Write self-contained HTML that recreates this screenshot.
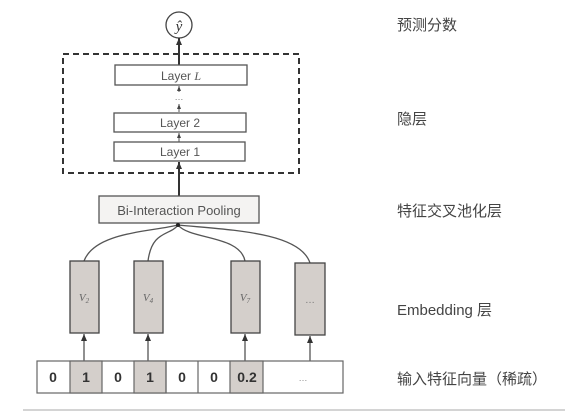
<!DOCTYPE html>
<html><head><meta charset="utf-8"><style>
html,body{margin:0;padding:0;background:#fff;width:579px;height:418px;overflow:hidden}
.cn{font-family:"Liberation Sans","Noto Sans CJK SC",sans-serif;font-size:15px;fill:#444}
</style></head><body>
<svg width="579" height="418" viewBox="0 0 579 418" xmlns="http://www.w3.org/2000/svg">
<defs>
<marker id="a" markerWidth="7" markerHeight="6" refX="7" refY="3" orient="auto" markerUnits="userSpaceOnUse">
<path d="M0,0 L7,3 L0,6 Z" fill="#333"/></marker>
<marker id="b" markerWidth="5" markerHeight="4" refX="5" refY="2" orient="auto" markerUnits="userSpaceOnUse">
<path d="M0,0 L5,2 L0,4 Z" fill="#444"/></marker>
</defs>
<!-- output circle -->
<circle cx="179" cy="25" r="13" fill="#fff" stroke="#444" stroke-width="1.3"/>
<text x="179" y="31" text-anchor="middle" font-family="Liberation Serif,serif" font-style="italic" font-size="15" fill="#333">ŷ</text>
<!-- dashed box -->
<rect x="63" y="54" width="236" height="119" fill="none" stroke="#333" stroke-width="2" stroke-dasharray="6,4"/>
<line x1="179" y1="65" x2="179" y2="38" stroke="#333" stroke-width="2" marker-end="url(#a)"/>
<rect x="115" y="65" width="132" height="20" fill="#fff" stroke="#555" stroke-width="1.3"/>
<text x="181" y="80" text-anchor="middle" font-family="Liberation Sans,sans-serif" font-size="12" fill="#555">Layer <tspan font-style="italic" font-family="Liberation Serif,serif">L</tspan></text>
<line x1="179" y1="92" x2="179" y2="86" stroke="#555" stroke-width="1" marker-end="url(#b)"/>
<text x="179" y="100" text-anchor="middle" font-family="Liberation Sans,sans-serif" font-size="9" fill="#777">…</text>
<line x1="179" y1="112" x2="179" y2="104" stroke="#555" stroke-width="1" marker-end="url(#b)"/>
<rect x="114" y="113" width="132" height="19" fill="#fff" stroke="#555" stroke-width="1.3"/>
<text x="180" y="127" text-anchor="middle" font-family="Liberation Sans,sans-serif" font-size="12" fill="#555">Layer 2</text>
<line x1="179" y1="142" x2="179" y2="133" stroke="#555" stroke-width="1" marker-end="url(#b)"/>
<rect x="114" y="142" width="131" height="19" fill="#fff" stroke="#555" stroke-width="1.3"/>
<text x="180" y="156" text-anchor="middle" font-family="Liberation Sans,sans-serif" font-size="12" fill="#555">Layer 1</text>
<line x1="179" y1="196" x2="179" y2="162" stroke="#333" stroke-width="2" marker-end="url(#a)"/>
<!-- Bi-interaction -->
<rect x="99" y="196" width="160" height="27" fill="#f4f3f2" stroke="#555" stroke-width="1.3"/>
<text x="179" y="215" text-anchor="middle" font-family="Liberation Sans,sans-serif" font-size="13" fill="#555">Bi-Interaction Pooling</text>
<!-- curves -->
<g fill="none" stroke="#555" stroke-width="1.3">
<path d="M178,225 C150,232 95,232 84,261"/>
<path d="M178,225 C170,236 152,230 148,261"/>
<path d="M178,225 C190,240 240,235 245,261"/>
<path d="M178,225 C230,230 300,232 310,263"/>
</g>
<circle cx="178" cy="225" r="2" fill="#222"/>
<!-- embedding -->
<g fill="#d4cfcb" stroke="#444" stroke-width="1.3">
<rect x="70" y="261" width="29" height="72"/>
<rect x="134" y="261" width="29" height="72"/>
<rect x="231" y="261" width="29" height="72"/>
<rect x="295" y="263" width="30" height="72"/>
</g>
<g font-family="Liberation Serif,serif" font-style="italic" font-size="11" fill="#666" text-anchor="middle">
<text x="84" y="301">V<tspan font-size="7" dy="2">2</tspan></text>
<text x="148" y="301">V<tspan font-size="7" dy="2">4</tspan></text>
<text x="245" y="301">V<tspan font-size="7" dy="2">7</tspan></text>
</g>
<text x="310" y="303" text-anchor="middle" font-family="Liberation Sans,sans-serif" font-size="10" fill="#777">…</text>
<g stroke="#555" stroke-width="1.3">
<line x1="84" y1="361" x2="84" y2="334" marker-end="url(#a)"/>
<line x1="148" y1="361" x2="148" y2="334" marker-end="url(#a)"/>
<line x1="245" y1="361" x2="245" y2="334" marker-end="url(#a)"/>
<line x1="310" y1="361" x2="310" y2="336" marker-end="url(#a)"/>
</g>
<!-- input row -->
<rect x="37" y="361" width="306" height="32" fill="#fff" stroke="#666" stroke-width="1.2"/>
<g fill="#d4cfcb" stroke="#666" stroke-width="1.2">
<rect x="70" y="361" width="32" height="32"/>
<rect x="134" y="361" width="32" height="32"/>
<rect x="230" y="361" width="33" height="32"/>
</g>
<g stroke="#666" stroke-width="1.2">
<line x1="166" y1="361" x2="166" y2="393"/>
<line x1="198" y1="361" x2="198" y2="393"/>
</g>
<g font-family="Liberation Sans,sans-serif" font-weight="bold" font-size="14" fill="#333" text-anchor="middle">
<text x="53" y="382">0</text><text x="86" y="382">1</text><text x="118" y="382">0</text><text x="150" y="382">1</text>
<text x="182" y="382">0</text><text x="214" y="382">0</text><text x="247" y="382">0.2</text>
</g>
<text x="303" y="381" text-anchor="middle" font-family="Liberation Sans,sans-serif" font-size="9" fill="#888">…</text>
<line x1="23" y1="410" x2="565" y2="410" stroke="#bbb" stroke-width="1.2"/>
<!-- labels -->
<text class="cn" x="397" y="30">预测分数</text>
<text class="cn" x="397" y="124">隐层</text>
<text class="cn" x="397" y="216">特征交叉池化层</text>
<text class="cn" x="397" y="315">Embedding 层</text>
<text class="cn" x="397" y="384">输入特征向量（稀疏）</text>
</svg>
</body></html>
